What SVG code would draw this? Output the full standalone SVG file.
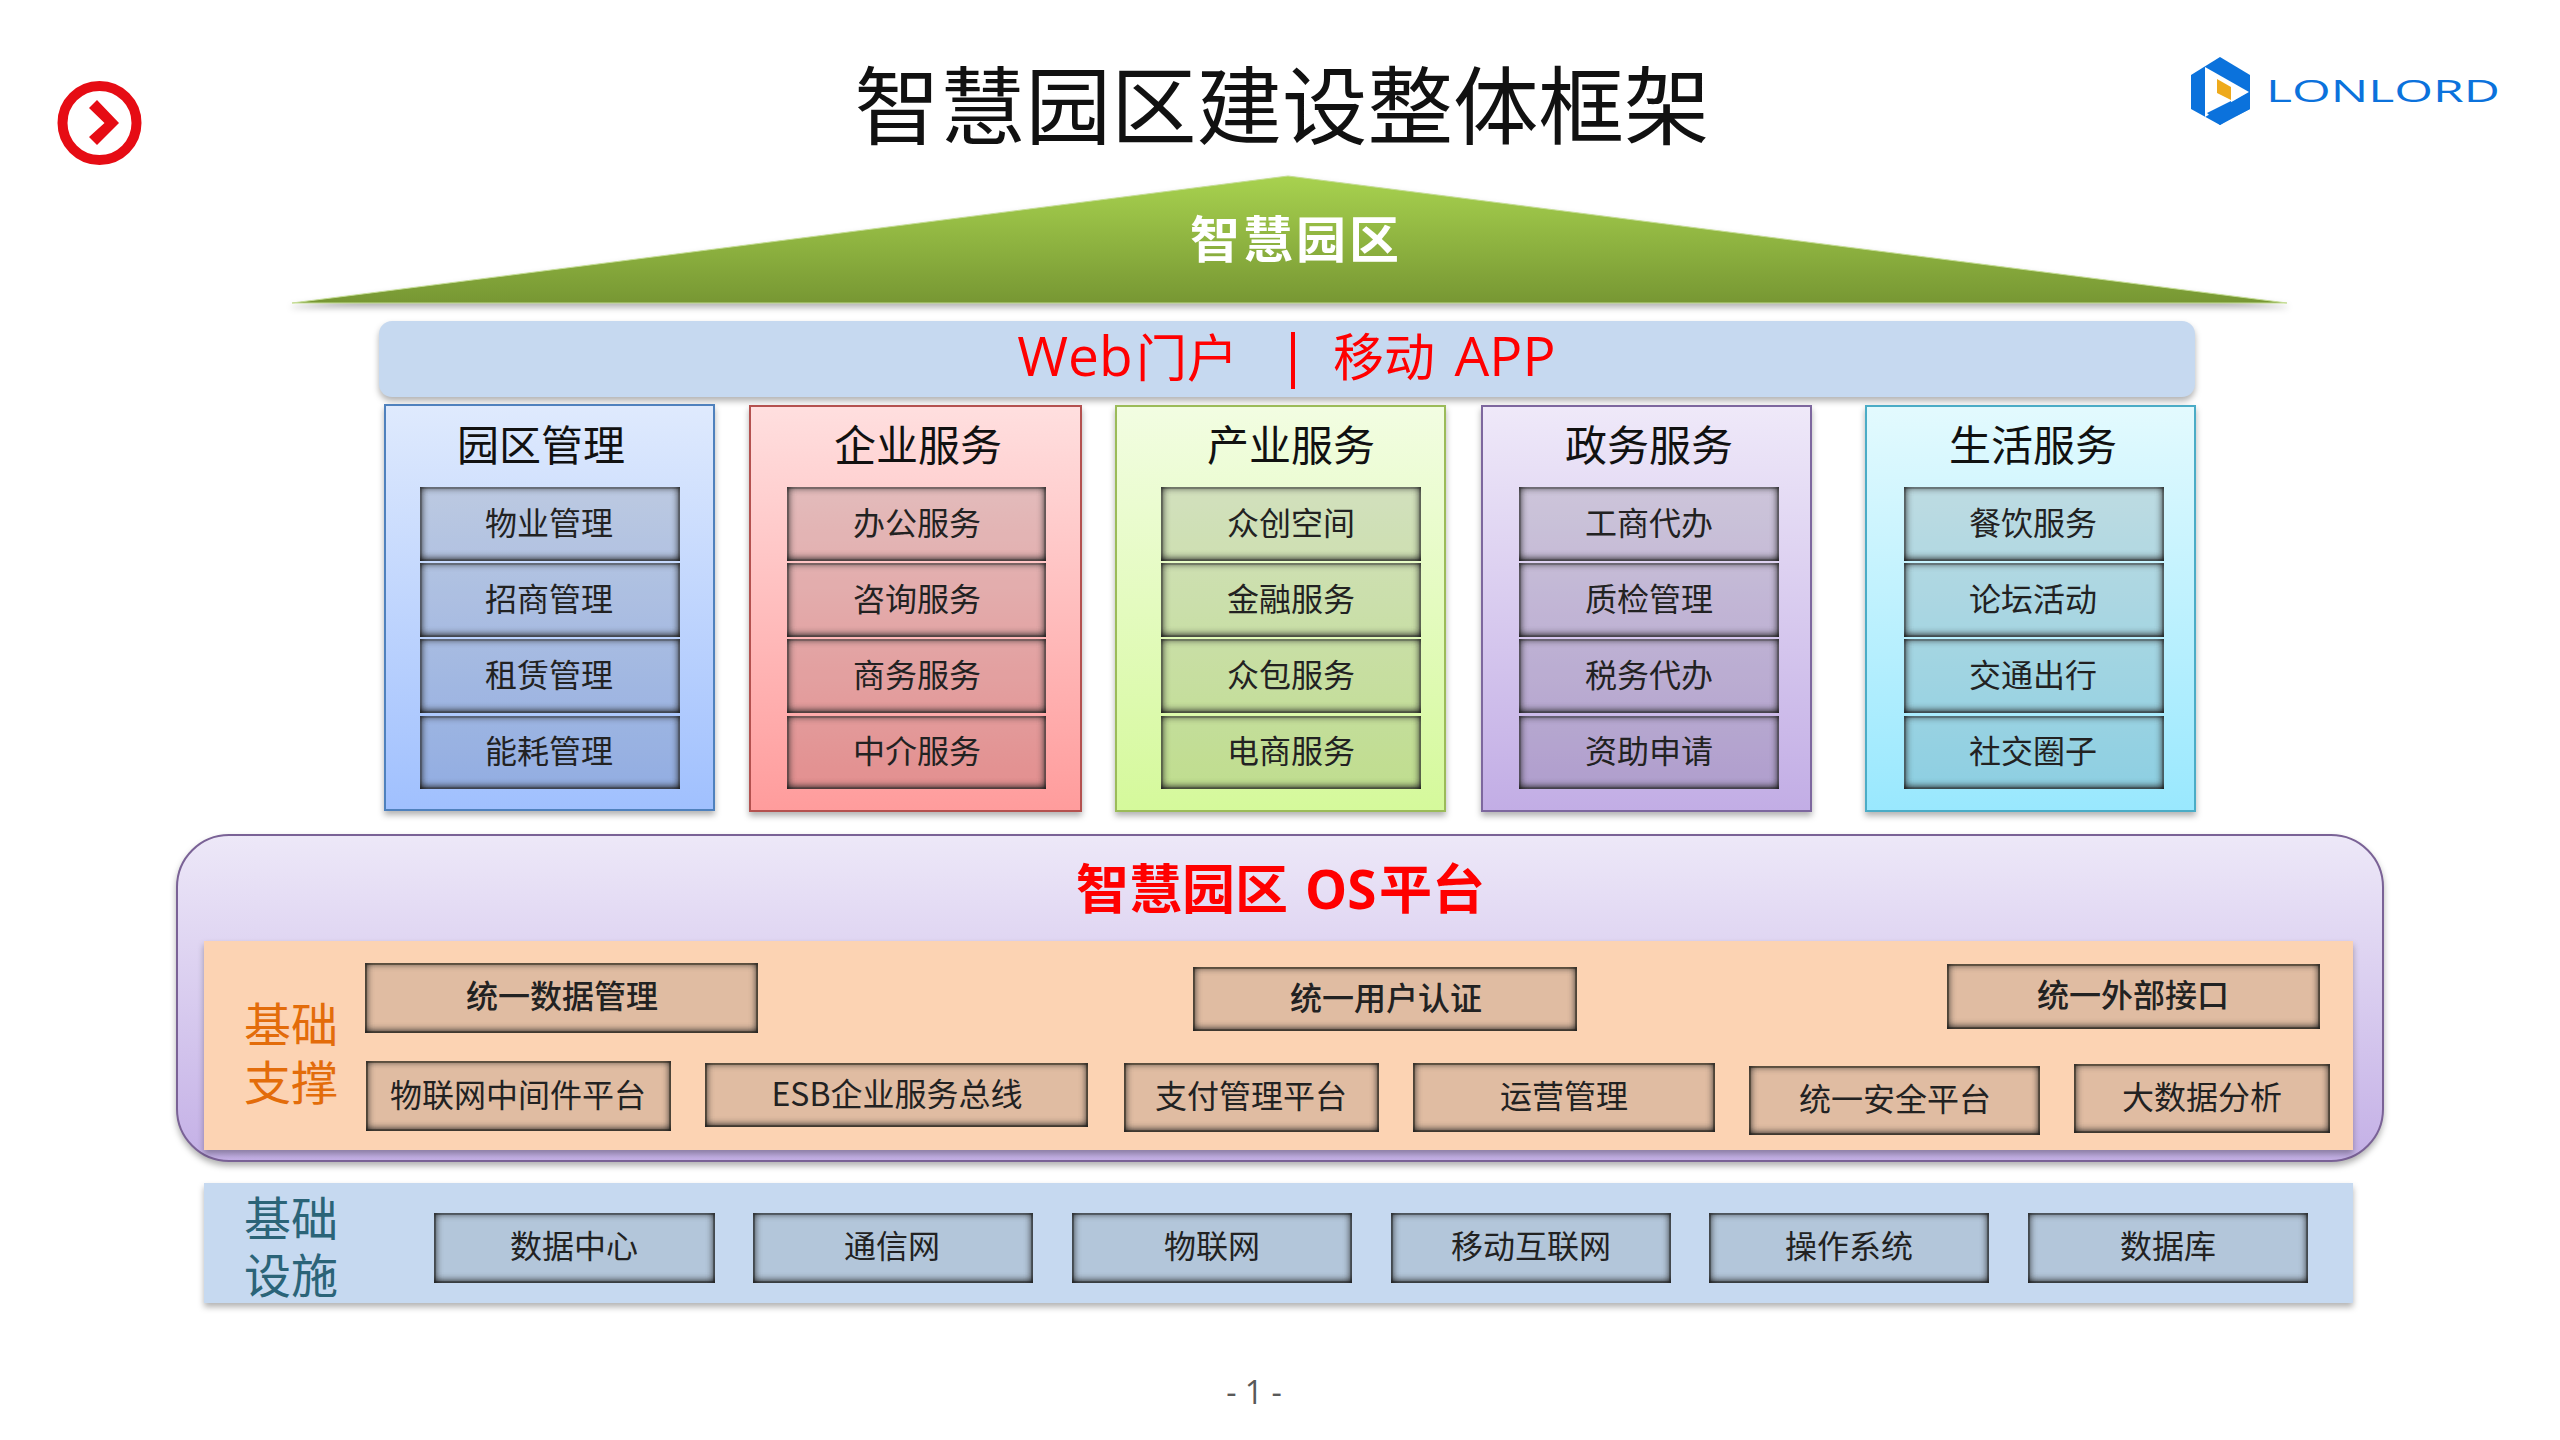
<svg xmlns="http://www.w3.org/2000/svg" width="2560" height="1440" viewBox="0 0 2560 1440">
<style>
text{font-family:"Noto Sans CJK SC","Noto Sans",sans-serif;text-anchor:middle}
.latin{font-family:"Open Sans","Noto Sans CJK SC",sans-serif}
.t{font-size:42px;fill:#111}
.b{font-size:32px;fill:#222}
.m{font-weight:500}
.box{fill:#2a2a2a;fill-opacity:.13;stroke:#3a3a3a;stroke-opacity:.4;stroke-width:1.500;filter:url(#inset)}
.obox{fill:#e0bca2;stroke:#6b583e;stroke-width:1.500;filter:url(#inset)}
.ibox{fill:#b3c6da;stroke:#5b6872;stroke-width:1.500;filter:url(#inset)}
.panel{stroke-width:2;filter:url(#shadow)}
.side{font-size:47px}
.os{font-size:53px;font-weight:700;fill:#f00;text-anchor:start}
</style>
<defs>
<filter id="inset" filterUnits="userSpaceOnUse" x="0" y="0" width="2560" height="1440" color-interpolation-filters="sRGB">
<feComponentTransfer in="SourceAlpha" result="a"><feFuncA type="linear" slope="100"/></feComponentTransfer>
<feFlood flood-color="#202020" flood-opacity="1" result="f"/>
<feComposite in="f" in2="a" operator="out" result="inv"/>
<feOffset in="inv" dy="-1.500" result="off"/>
<feGaussianBlur in="off" stdDeviation="4.500" result="bl"/>
<feComponentTransfer in="bl" result="bl2"><feFuncA type="linear" slope="1.300"/></feComponentTransfer>
<feComposite in="bl2" in2="a" operator="in" result="sh"/>
<feMerge><feMergeNode in="SourceGraphic"/><feMergeNode in="sh"/></feMerge>
</filter>
<filter id="shadow" x="-5%" y="-10%" width="110%" height="125%" color-interpolation-filters="sRGB">
<feDropShadow dx="0" dy="4" stdDeviation="3" flood-color="#000" flood-opacity=".3"/>
</filter>
<linearGradient id="roof" x1="0" y1="0" x2="0" y2="1"><stop offset="0" stop-color="#a8d24f"/><stop offset="1" stop-color="#779733"/></linearGradient>
<linearGradient id="g1" x1="0" y1="0" x2="0" y2="1"><stop offset="0" stop-color="#dfeafd"/><stop offset="1" stop-color="#a0c0fe"/></linearGradient>
<linearGradient id="g2" x1="0" y1="0" x2="0" y2="1"><stop offset="0" stop-color="#ffdfdf"/><stop offset="1" stop-color="#ff9c9c"/></linearGradient>
<linearGradient id="g3" x1="0" y1="0" x2="0" y2="1"><stop offset="0" stop-color="#f2fde2"/><stop offset="1" stop-color="#d5f99b"/></linearGradient>
<linearGradient id="g4" x1="0" y1="0" x2="0" y2="1"><stop offset="0" stop-color="#efe9f9"/><stop offset="1" stop-color="#c2ade5"/></linearGradient>
<linearGradient id="g5" x1="0" y1="0" x2="0" y2="1"><stop offset="0" stop-color="#e3fafe"/><stop offset="1" stop-color="#99e8fe"/></linearGradient>
<linearGradient id="gos" x1="0" y1="0" x2="0" y2="1"><stop offset="0" stop-color="#ede8f8"/><stop offset="1" stop-color="#c4b0e6"/></linearGradient>
</defs>
<rect width="2560" height="1440" fill="#fff"/>

<g id="nav-icon">
<circle cx="99.5" cy="123" r="37" fill="none" stroke="#e60c14" stroke-width="10"/>
<polygon points="89,108 97,100 119,123 97,145 89,137 104.500,123" fill="#e60c14"/>
</g>
<text x="1282" y="138" font-size="85.500" fill="#111">智慧园区建设整体框架</text>

<g id="logo">
<polygon points="2220,57 2250,75 2250,109 2220,125 2191,109 2191,75" fill="#0b72dc"/>
<polygon points="2205,67 2249,92 2205,117" fill="#fff"/>
<polygon points="2207,113 2231,101 2231,118 2220,125" fill="#0b72dc"/>
<polygon points="2236,100 2250,92 2250,109 2236,116" fill="#0b72dc"/>
<polygon points="2217,79 2231,87 2231,100 2217,93" fill="#eeaa1c"/>
<text x="2383" y="102" class="latin" font-size="31" fill="#0b72dc" textLength="234" lengthAdjust="spacingAndGlyphs">LONLORD</text>
</g>

<g id="roof">
<polygon points="292,303 1288,176 2287,303" fill="url(#roof)" stroke="#c5dd95" stroke-width="1" filter="url(#shadow)"/>
<text x="1296" y="258" font-size="50" font-weight="700" fill="#fff" letter-spacing="3">智慧园区</text>
</g>

<g id="portal">
<rect x="379" y="321" width="1816" height="76" rx="13" fill="#c6d9f0" filter="url(#shadow)"/>
<text y="376" font-size="55" fill="#f00" class="latin" x="1075">Web</text>
<text x="1187" y="377" font-size="51" fill="#f00">门户</text>
<rect x="1291" y="332" width="4" height="57" fill="#f00"/>
<text x="1384" y="376" font-size="51" fill="#f00">移动</text>
<text x="1505" y="376" font-size="55" fill="#f00" class="latin">APP</text>
</g>

<g id="panel-park">
<rect class="panel" x="385" y="405" width="329" height="405" fill="url(#g1)" stroke="#4f81bd"/>
<text class="t" x="541" y="461">园区管理</text>
<rect class="box" x="421" y="488" width="258" height="72"/><text class="b" x="549" y="535">物业管理</text>
<rect class="box" x="421" y="564" width="258" height="72"/><text class="b" x="549" y="611">招商管理</text>
<rect class="box" x="421" y="640" width="258" height="72"/><text class="b" x="549" y="687">租赁管理</text>
<rect class="box" x="421" y="717" width="258" height="71"/><text class="b" x="549" y="763">能耗管理</text>
</g>
<g id="panel-enterprise">
<rect class="panel" x="750" y="406" width="331" height="405" fill="url(#g2)" stroke="#b4514f"/>
<text class="t" x="918" y="461">企业服务</text>
<rect class="box" x="788" y="488" width="257" height="72"/><text class="b" x="917" y="535">办公服务</text>
<rect class="box" x="788" y="564" width="257" height="72"/><text class="b" x="917" y="611">咨询服务</text>
<rect class="box" x="788" y="640" width="257" height="72"/><text class="b" x="917" y="687">商务服务</text>
<rect class="box" x="788" y="717" width="257" height="71"/><text class="b" x="917" y="763">中介服务</text>
</g>
<g id="panel-industry">
<rect class="panel" x="1116" y="406" width="329" height="405" fill="url(#g3)" stroke="#9bbb59"/>
<text class="t" x="1291" y="461">产业服务</text>
<rect class="box" x="1162" y="488" width="258" height="72"/><text class="b" x="1291" y="535">众创空间</text>
<rect class="box" x="1162" y="564" width="258" height="72"/><text class="b" x="1291" y="611">金融服务</text>
<rect class="box" x="1162" y="640" width="258" height="72"/><text class="b" x="1291" y="687">众包服务</text>
<rect class="box" x="1162" y="717" width="258" height="71"/><text class="b" x="1291" y="763">电商服务</text>
</g>
<g id="panel-gov">
<rect class="panel" x="1482" y="406" width="329" height="405" fill="url(#g4)" stroke="#7d679e"/>
<text class="t" x="1649" y="461">政务服务</text>
<rect class="box" x="1520" y="488" width="258" height="72"/><text class="b" x="1649" y="535">工商代办</text>
<rect class="box" x="1520" y="564" width="258" height="72"/><text class="b" x="1649" y="611">质检管理</text>
<rect class="box" x="1520" y="640" width="258" height="72"/><text class="b" x="1649" y="687">税务代办</text>
<rect class="box" x="1520" y="717" width="258" height="71"/><text class="b" x="1649" y="763">资助申请</text>
</g>
<g id="panel-life">
<rect class="panel" x="1866" y="406" width="329" height="405" fill="url(#g5)" stroke="#4bacc6"/>
<text class="t" x="2033" y="461">生活服务</text>
<rect class="box" x="1905" y="488" width="258" height="72"/><text class="b" x="2033" y="535">餐饮服务</text>
<rect class="box" x="1905" y="564" width="258" height="72"/><text class="b" x="2033" y="611">论坛活动</text>
<rect class="box" x="1905" y="640" width="258" height="72"/><text class="b" x="2033" y="687">交通出行</text>
<rect class="box" x="1905" y="717" width="258" height="71"/><text class="b" x="2033" y="763">社交圈子</text>
</g>

<g id="os-platform">
<rect class="panel" x="177" y="835" width="2206" height="326" rx="52" fill="url(#gos)" stroke="#7a6296"/>
<text class="os" x="1076" y="909">智慧园区</text>
<text class="os latin" x="1305" y="909">OS</text>
<text class="os" x="1379" y="909">平台</text>
</g>

<g id="support">
<rect x="204" y="941" width="2149" height="209" fill="#fcd3b3" filter="url(#shadow)"/>
<text class="side" fill="#e36c0a"><tspan x="291" y="1042">基础</tspan><tspan x="291" y="1100">支撑</tspan></text>
</g>
<g id="s-data"><rect class="obox" x="366" y="964" width="391" height="68"/><text class="b m" x="562" y="1008">统一数据管理</text></g>
<g id="s-user"><rect class="obox" x="1194" y="968" width="382" height="62"/><text class="b m" x="1386" y="1010">统一用户认证</text></g>
<g id="s-ext"><rect class="obox" x="1948" y="965" width="371" height="63"/><text class="b m" x="2133" y="1007">统一外部接口</text></g>
<g id="s-iot"><rect class="obox" x="367" y="1062" width="303" height="68"/><text class="b" x="518" y="1107">物联网中间件平台</text></g>
<g id="s-esb"><rect class="obox" x="706" y="1064" width="381" height="62"/><text class="b" x="897" y="1106">ESB企业服务总线</text></g>
<g id="s-pay"><rect class="obox" x="1125" y="1064" width="253" height="67"/><text class="b" x="1251" y="1108">支付管理平台</text></g>
<g id="s-ops"><rect class="obox" x="1414" y="1064" width="300" height="67"/><text class="b" x="1564" y="1108">运营管理</text></g>
<g id="s-sec"><rect class="obox" x="1750" y="1067" width="289" height="67"/><text class="b" x="1895" y="1111">统一安全平台</text></g>
<g id="s-big"><rect class="obox" x="2075" y="1065" width="254" height="67"/><text class="b" x="2202" y="1109">大数据分析</text></g>

<g id="infra">
<rect x="204" y="1183" width="2149" height="120" fill="#c6d9f0" filter="url(#shadow)"/>
<text class="side" fill="#2b6478"><tspan x="291" y="1236">基础</tspan><tspan x="291" y="1293">设施</tspan></text>
</g>
<g id="i-dc"><rect class="ibox" x="435" y="1214" width="279" height="68"/><text class="b" x="574" y="1258">数据中心</text></g>
<g id="i-net"><rect class="ibox" x="754" y="1214" width="278" height="68"/><text class="b" x="892" y="1258">通信网</text></g>
<g id="i-iot"><rect class="ibox" x="1073" y="1214" width="278" height="68"/><text class="b" x="1212" y="1258">物联网</text></g>
<g id="i-mob"><rect class="ibox" x="1392" y="1214" width="278" height="68"/><text class="b" x="1531" y="1258">移动互联网</text></g>
<g id="i-os"><rect class="ibox" x="1710" y="1214" width="278" height="68"/><text class="b" x="1849" y="1258">操作系统</text></g>
<g id="i-db"><rect class="ibox" x="2029" y="1214" width="278" height="68"/><text class="b" x="2168" y="1258">数据库</text></g>

<text x="1254" y="1404" font-size="32" fill="#595959" class="latin">- 1 -</text>
</svg>
